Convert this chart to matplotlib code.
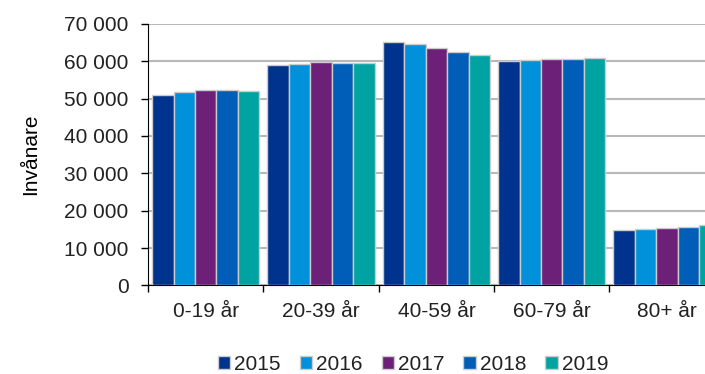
import numpy as np
import matplotlib.pyplot as plt
from matplotlib.ticker import FuncFormatter, MultipleLocator

# Invånare per åldersgrupp och år
age_groups = ['0-19 år', '20-39 år', '40-59 år', '60-79 år', '80+ år']
years = ['2015', '2016', '2017', '2018', '2019']
pop_2015 = [51000, 59000, 65200, 60000, 14700]
pop_2016 = [51800, 59400, 64500, 60400, 15100]
pop_2017 = [52300, 59800, 63500, 60600, 15350]
pop_2018 = [52300, 59600, 62500, 60600, 15700]
pop_2019 = [52000, 59600, 61800, 61000, 16100]

series = [pop_2015, pop_2016, pop_2017, pop_2018, pop_2019]
colors = ['#00338D', '#0091DA', '#6D2077', '#005EB8', '#00A3A1']

plt.rcParams['font.family'] = ['Liberation Sans', 'DejaVu Sans']
plt.rcParams['text.color'] = '#222222'
plt.rcParams['xtick.labelcolor'] = '#222222'
plt.rcParams['ytick.labelcolor'] = '#222222'

fig = plt.figure(figsize=(7.05, 3.74), dpi=100)
ax = fig.add_axes([0.21, 0.237, 0.818, 0.699])

n = len(series)
width = 0.186
pos = np.arange(len(age_groups)) + 0.5
for i, (vals, col, yr) in enumerate(zip(series, colors, years)):
    shift = (i - (n - 1) / 2) * width
    ax.bar(pos + shift, vals, width=width, color=col, edgecolor='#cccccc',
           linewidth=1.0, label=yr, zorder=3)

ax.set_xlim(0, len(age_groups))
ax.set_ylim(0, 70000)
ax.yaxis.set_major_locator(MultipleLocator(10000))
ax.yaxis.set_major_formatter(
    FuncFormatter(lambda v, p: f'{int(v):,}'.replace(',', ' ')))
ax.grid(axis='y', color='#b8b8b8', linewidth=1.5, zorder=0)

# group boundaries as ticks, labels centred in groups
ax.set_xticks(np.arange(len(age_groups) + 1))
ax.set_xticklabels([])
ax.set_xticks(pos, minor=True)
ax.set_xticklabels(age_groups, minor=True)
ax.tick_params(axis='x', which='major', length=5, width=1, direction='out')
ax.tick_params(axis='x', which='minor', length=0, pad=12, labelsize=15)
ax.tick_params(axis='y', length=5, width=1, pad=9, labelsize=15)

for side in ['top', 'right']:
    ax.spines[side].set_visible(False)
ax.spines['left'].set_color('black')
ax.spines['bottom'].set_color('black')

ax.set_ylabel('Invånare', fontsize=15, labelpad=17)

fig.legend(loc='center', bbox_to_anchor=(0.586, 0.025), ncol=5,
           frameon=False, fontsize=15, handlelength=0.6,
           handleheight=0.6, handletextpad=0.2, columnspacing=0.9)

fig.savefig('out.png', dpi=100)
